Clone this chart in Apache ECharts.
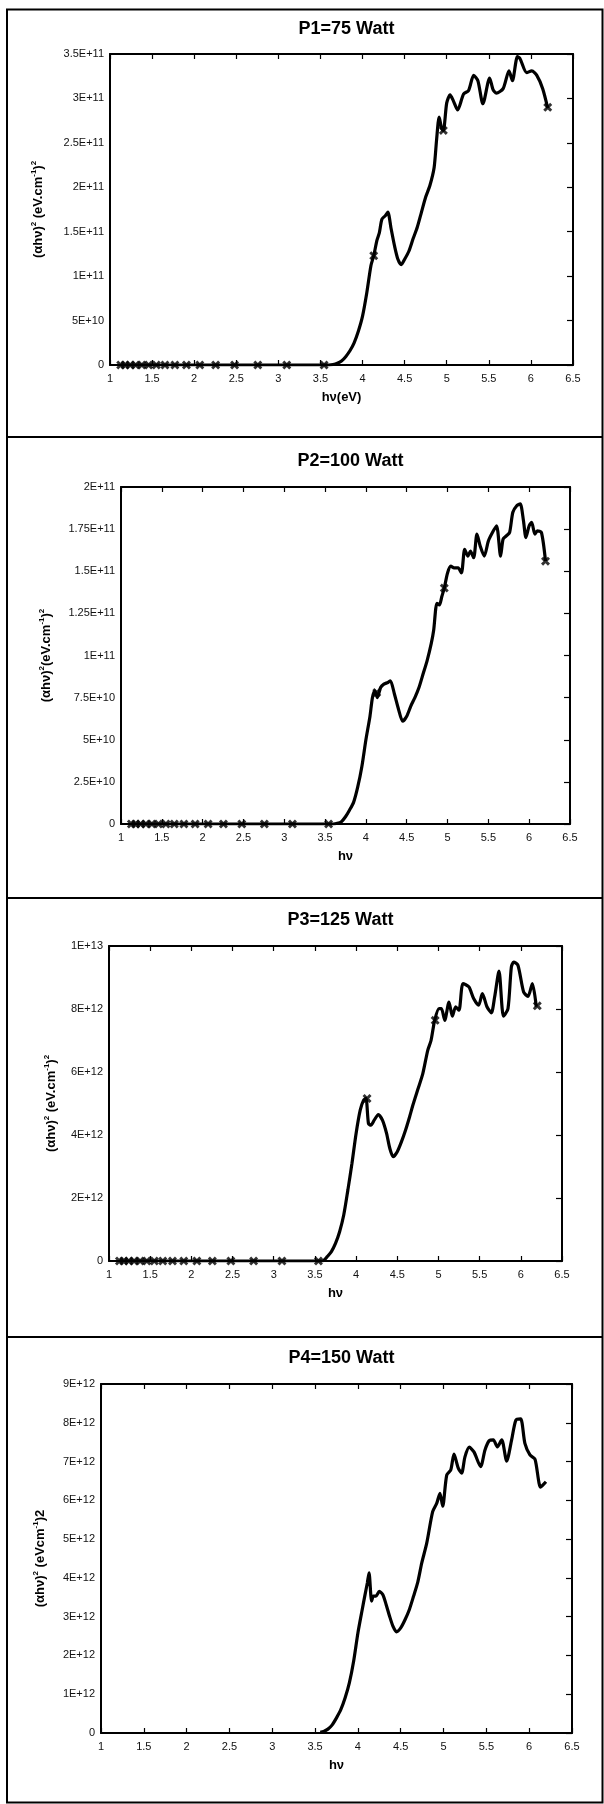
<!DOCTYPE html>
<html>
<head>
<meta charset="utf-8">
<script src="https://cdn.jsdelivr.net/npm/echarts@6/dist/echarts.min.js"></script>
<style>
html,body{margin:0;padding:0;background:#fff;}
#c{width:604px;height:1804px;}
</style>
</head>
<body>
<div id="c"></div>
<script>
// ---------- data ----------
const xTickLabels = ['1','1.5','2','2.5','3','3.5','4','4.5','5','5.5','6','6.5'];

const titles = ['P1=75 Watt','P2=100 Watt','P3=125 Watt','P4=150 Watt'];

const yTicks1 = ['0','5E+10','1E+11','1.5E+11','2E+11','2.5E+11','3E+11','3.5E+11'];
const yTicks2 = ['0','2.5E+10','5E+10','7.5E+10','1E+11','1.25E+11','1.5E+11','1.75E+11','2E+11'];
const yTicks3 = ['0','2E+12','4E+12','6E+12','8E+12','1E+13'];
const yTicks4 = ['0','1E+12','2E+12','3E+12','4E+12','5E+12','6E+12','7E+12','8E+12','9E+12'];

// marker energies (eV)
const markerX = [1.127,1.178,1.24,1.305,1.378,1.459,1.55,1.653,1.771,1.908,2.067,2.255,2.48,2.756,3.1,3.543,4.133,4.96,6.2];

const markers1Y = [0,0,0,0,0,0,0,0,0,0,0,0,0,0,0,0,1.23e11,2.64e11,2.9e11];
const markers2Y = [0,0,0,0,0,0,0,0,0,0,0,0,0,0,0,0,7.8e10,1.4e11,1.56e11];
const markers3Y = [0,0,0,0,0,0,0,0,0,0,0,0,0,0,0,0,5.16e12,7.64e12,8.1e12];

const curve1 = [[1.127,0],[3.54,0],[3.6,0],[3.65,5e8],[3.7,1.9e9],[3.75,4.5e9],[3.8,9.4e9],[3.85,1.6e10],[3.9,2.5e10],[3.95,3.8e10],[4.0,5.5e10],[4.05,8.1e10],[4.1,1.12e11],[4.133,1.23e11],[4.17,1.4e11],[4.2,1.49e11],[4.23,1.64e11],[4.27,1.68e11],[4.3,1.72e11],[4.34,1.53e11],[4.38,1.34e11],[4.42,1.19e11],[4.46,1.13e11],[4.5,1.19e11],[4.55,1.28e11],[4.6,1.42e11],[4.65,1.55e11],[4.7,1.72e11],[4.75,1.89e11],[4.8,2.02e11],[4.85,2.22e11],[4.88,2.54e11],[4.91,2.79e11],[4.94,2.66e11],[4.96,2.64e11],[5.0,2.95e11],[5.04,3.04e11],[5.08,2.97e11],[5.13,2.87e11],[5.2,3.05e11],[5.26,3.09e11],[5.32,3.26e11],[5.37,3.2e11],[5.43,2.94e11],[5.51,3.23e11],[5.55,3.1e11],[5.59,3.06e11],[5.67,3.11e11],[5.74,3.31e11],[5.78,3.2e11],[5.84,3.47e11],[5.87,3.45e11],[5.95,3.29e11],[6.01,3.31e11],[6.07,3.26e11],[6.14,3.11e11],[6.2,2.89e11]];

const curve2 = [[1.127,0],[3.6,0],[3.65,4e8],[3.7,1.4e9],[3.75,4.3e9],[3.8,8.3e9],[3.85,1.3e10],[3.9,2.2e10],[3.95,3.4e10],[4.0,5.0e10],[4.05,6.4e10],[4.08,7.5e10],[4.11,7.9e10],[4.14,7.5e10],[4.18,8.1e10],[4.22,8.3e10],[4.27,8.4e10],[4.3,8.5e10],[4.35,7.7e10],[4.4,6.8e10],[4.45,6.1e10],[4.5,6.4e10],[4.55,7.0e10],[4.6,7.5e10],[4.65,8.1e10],[4.7,8.9e10],[4.75,9.7e10],[4.8,1.07e11],[4.83,1.15e11],[4.87,1.31e11],[4.9,1.30e11],[4.93,1.35e11],[4.96,1.40e11],[5.0,1.49e11],[5.04,1.53e11],[5.08,1.52e11],[5.13,1.52e11],[5.17,1.49e11],[5.21,1.63e11],[5.25,1.59e11],[5.28,1.62e11],[5.32,1.58e11],[5.36,1.72e11],[5.4,1.65e11],[5.45,1.59e11],[5.5,1.68e11],[5.55,1.73e11],[5.6,1.77e11],[5.65,1.59e11],[5.68,1.69e11],[5.72,1.71e11],[5.76,1.73e11],[5.8,1.85e11],[5.85,1.89e11],[5.89,1.90e11],[5.93,1.80e11],[5.96,1.70e11],[6.0,1.77e11],[6.03,1.79e11],[6.07,1.72e11],[6.1,1.74e11],[6.15,1.73e11],[6.2,1.56e11]];

const curve3 = [[1.127,0],[3.58,0],[3.62,5e10],[3.65,1.4e11],[3.7,3.0e11],[3.75,5.6e11],[3.8,9.3e11],[3.85,1.46e12],[3.9,2.25e12],[3.95,3.1e12],[4.0,4.05e12],[4.05,4.79e12],[4.09,5.1e12],[4.12,5.16e12],[4.15,4.37e12],[4.18,4.31e12],[4.22,4.47e12],[4.27,4.65e12],[4.32,4.47e12],[4.37,4.05e12],[4.41,3.57e12],[4.45,3.31e12],[4.5,3.47e12],[4.55,3.78e12],[4.6,4.15e12],[4.65,4.58e12],[4.69,4.95e12],[4.75,5.45e12],[4.81,5.95e12],[4.87,6.69e12],[4.91,7.0e12],[4.954,7.64e12],[5.007,8.01e12],[5.036,8.01e12],[5.076,7.64e12],[5.128,8.22e12],[5.169,7.77e12],[5.209,8.07e12],[5.249,7.96e12],[5.298,8.81e12],[5.37,8.7e12],[5.427,8.33e12],[5.488,8.12e12],[5.533,8.49e12],[5.589,8.07e12],[5.642,7.88e12],[5.682,8.38e12],[5.735,9.2e12],[5.79,7.77e12],[5.844,8.01e12],[5.885,9.33e12],[5.913,9.49e12],[5.965,9.39e12],[6.034,8.54e12],[6.087,8.4e12],[6.14,8.81e12],[6.188,8.07e12]];

const curve4 = [[3.56,2e10],[3.6,4e10],[3.65,1.0e11],[3.7,2.1e11],[3.75,3.9e11],[3.8,6.0e11],[3.85,9.0e11],[3.9,1.29e12],[3.95,1.85e12],[4.0,2.58e12],[4.05,3.18e12],[4.08,3.53e12],[4.11,3.87e12],[4.13,4.13e12],[4.16,3.4e12],[4.18,3.53e12],[4.21,3.53e12],[4.25,3.65e12],[4.29,3.57e12],[4.33,3.31e12],[4.37,3.01e12],[4.41,2.75e12],[4.45,2.61e12],[4.5,2.71e12],[4.55,2.92e12],[4.6,3.18e12],[4.65,3.53e12],[4.7,3.9e12],[4.745,4.38e12],[4.803,4.89e12],[4.873,5.71e12],[4.92,5.92e12],[4.958,6.18e12],[4.99,5.85e12],[5.037,6.65e12],[5.084,6.78e12],[5.122,7.19e12],[5.172,6.83e12],[5.211,6.7e12],[5.25,7.12e12],[5.3,7.37e12],[5.355,7.25e12],[5.433,6.87e12],[5.484,7.3e12],[5.534,7.54e12],[5.581,7.56e12],[5.628,7.38e12],[5.679,7.56e12],[5.737,7.01e12],[5.795,7.56e12],[5.845,8.07e12],[5.9,8.1e12],[5.95,7.47e12],[6.009,7.17e12],[6.068,7.06e12],[6.134,6.34e12],[6.196,6.48e12]];

// ---------- layout / style ----------
const FONT = "'Liberation Sans', Arial, sans-serif";
const panels = [
  {title:titles[0], curve:curve1, mY:markers1Y, yT:yTicks1, yMax:3.5e11, yInt:5e10,
   grid:{left:110,top:54,width:463,height:311}, xName:'hν(eV)',
   yName:'(αhν){s|2} (eV.cm{s|-1}){s|2}', yGap:64, tTop:15},
  {title:titles[1], curve:curve2, mY:markers2Y, yT:yTicks2, yMax:2e11, yInt:2.5e10,
   grid:{left:121,top:487,width:449,height:337}, xName:'hν',
   yName:'(αhν){s|2}(eV.cm{s|-1}){s|2}', yGap:67, tTop:447},
  {title:titles[2], curve:curve3, mY:markers3Y, yT:yTicks3, yMax:1e13, yInt:2e12,
   grid:{left:109,top:946,width:453,height:315}, xName:'hν',
   yName:'(αhν){s|2} (eV.cm{s|-1}){s|2}', yGap:50, tTop:906},
  {title:titles[3], curve:curve4, mY:null, yT:yTicks4, yMax:9e12, yInt:1e12,
   grid:{left:101,top:1384,width:471,height:349}, xName:'hν',
   yName:'(αhν){s|2} (eVcm{s|-1})2', yGap:53, tTop:1344}
];

const crossPath = 'path://M0,2.3L2.3,0L5,2.7L7.7,0L10,2.3L7.3,5L10,7.7L7.7,10L5,7.3L2.3,10L0,7.7L2.7,5Z';

const option = {
  animation:false,
  backgroundColor:'#fff',
  title:[], grid:[], xAxis:[], yAxis:[], series:[],
  graphic:[
    {type:'rect', shape:{x:7,y:9.5,width:595.5,height:1793}, style:{fill:'none',stroke:'#000',lineWidth:2}, z:100},
    {type:'line', shape:{x1:7,y1:437,x2:603,y2:437}, style:{stroke:'#000',lineWidth:2}, z:100},
    {type:'line', shape:{x1:7,y1:898,x2:603,y2:898}, style:{stroke:'#000',lineWidth:2}, z:100},
    {type:'line', shape:{x1:7,y1:1337,x2:603,y2:1337}, style:{stroke:'#000',lineWidth:2}, z:100}
  ]
};

panels.forEach((p,i)=>{
  const cx = p.grid.left + p.grid.width/2;
  option.title.push({text:p.title, left:cx, top:p.tTop, textAlign:'center',
    textStyle:{fontFamily:FONT, fontWeight:'bold', fontSize:18, color:'#000'}});
  option.grid.push(Object.assign({containLabel:false}, p.grid));
  const axLine = {show:true, onZero:false, lineStyle:{color:'#000', width:2}};
  const xFmt = v => xTickLabels[Math.round((v-1)/0.5)];
  const yT = p.yT, yInt = p.yInt;
  const yFmt = v => yT[Math.round(v/yInt)];
  option.xAxis.push({type:'value', gridIndex:i, min:1, max:6.5, interval:0.5, position:'bottom',
    axisLine:axLine, axisTick:{show:true, inside:true, length:5, lineStyle:{color:'#000',width:1.2}},
    axisLabel:{formatter:xFmt, fontFamily:FONT, fontSize:11, color:'#111', margin:8},
    splitLine:{show:false},
    name:p.xName, nameLocation:'middle', nameGap:26,
    nameTextStyle:{fontFamily:FONT, fontWeight:'bold', fontSize:13, color:'#000'}});
  option.xAxis.push({type:'value', gridIndex:i, min:1, max:6.5, interval:0.5, position:'top',
    axisLine:axLine, axisTick:{show:true, inside:true, length:5, lineStyle:{color:'#000',width:1.2}},
    axisLabel:{show:false}, splitLine:{show:false}});
  option.yAxis.push({type:'value', gridIndex:i, min:0, max:p.yMax, interval:p.yInt, position:'left',
    axisLine:axLine, axisTick:{show:false},
    axisLabel:{formatter:yFmt, fontFamily:FONT, fontSize:11, color:'#111', margin:6},
    splitLine:{show:false},
    name:p.yName, nameLocation:'middle', nameGap:p.yGap,
    nameTextStyle:{fontFamily:FONT, fontWeight:'bold', fontSize:13, color:'#000', lineHeight:16,
      rich:{s:{fontFamily:FONT, fontWeight:'bold', fontSize:8, color:'#000', verticalAlign:'top', lineHeight:16}}}});
  option.yAxis.push({type:'value', gridIndex:i, min:0, max:p.yMax, interval:p.yInt, position:'right',
    axisLine:axLine, axisTick:{show:true, inside:true, length:6, lineStyle:{color:'#000',width:1.2}},
    axisLabel:{show:false}, splitLine:{show:false}});
  option.series.push({type:'line', xAxisIndex:2*i, yAxisIndex:2*i, data:p.curve,
    smooth:0.25, showSymbol:false, symbol:'none', lineStyle:{color:'#000', width:3.2}, z:3});
  if (p.mY) {
    option.series.push({type:'scatter', xAxisIndex:2*i, yAxisIndex:2*i,
      data:markerX.map((x,k)=>[x,p.mY[k]]),
      symbol:crossPath, symbolSize:9, itemStyle:{color:'#000'}, z:4});
  }
});

const chart = echarts.init(document.getElementById('c'), null, {renderer:'canvas', width:604, height:1804});
chart.setOption(option);
</script>
</body>
</html>
